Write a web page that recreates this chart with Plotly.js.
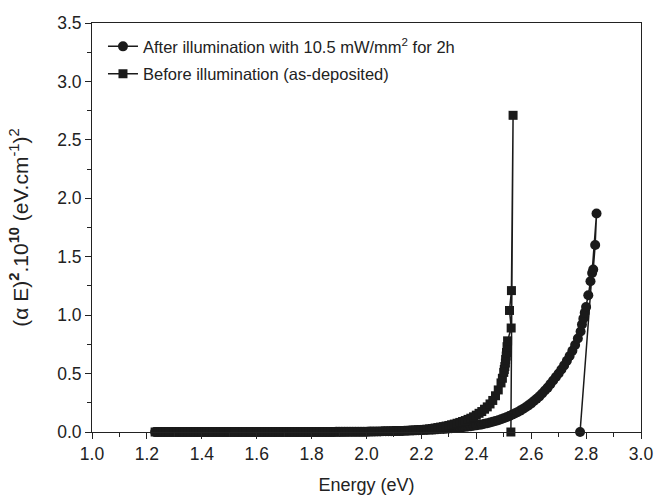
<!DOCTYPE html>
<html>
<head>
<meta charset="utf-8">
<script src="https://cdn.plot.ly/plotly-3.0.1.min.js"></script>
<style>html,body{margin:0;padding:0;background:#fff;}#chart{width:659px;height:501px;}</style>
</head>
<body>
<div id="chart"></div>
<script>
// After illumination with 10.5 mW/mm2 for 2h (circles)
const afterX = [
  1.23,1.24,1.25,1.26,1.27,1.28,1.29,1.30,1.31,1.32,
  1.33,1.34,1.35,1.36,1.37,1.38,1.39,1.40,1.41,1.42,
  1.43,1.44,1.45,1.46,1.47,1.48,1.49,1.50,1.51,1.52,
  1.53,1.54,1.55,1.56,1.57,1.58,1.59,1.60,1.61,1.62,
  1.63,1.64,1.65,1.66,1.67,1.68,1.69,1.70,1.71,1.72,
  1.73,1.74,1.75,1.76,1.77,1.78,1.79,1.80,1.81,1.82,
  1.83,1.84,1.85,1.86,1.87,1.88,1.89,1.90,1.91,1.92,
  1.93,1.94,1.95,1.96,1.97,1.98,1.99,2.00,2.01,2.02,
  2.03,2.04,2.05,2.06,2.07,2.08,2.09,2.10,2.11,2.12,
  2.13,2.14,2.15,2.16,2.17,2.18,2.19,2.20,2.21,2.22,
  2.23,2.24,2.25,2.26,2.27,2.28,2.29,2.30,2.31,2.32,
  2.33,2.34,2.35,2.36,2.37,2.38,2.39,2.40,2.41,2.42,
  2.43,2.44,2.45,2.46,2.47,2.48,2.49,2.50,2.51,2.52,
  2.53,2.54,2.55,2.56,2.57,2.58,2.59,2.60,
  2.61,2.62,2.63,2.64,2.65,2.66,2.67,2.68,2.69,2.70,
  2.71,2.72,2.73,2.74,2.75,2.76,2.77,2.78,
  2.785,2.79,2.795,2.80,2.808,2.816,2.822,2.826,2.833,2.838,2.778];
const afterY = [
  0,0,0,0,0,0,0,0,0,0,
  0,0,0,0,0,0,0,0,0,0,
  0,0,0,0,0,0,0,0,0,0,
  0,0,0,0,0,0,0,0,0,0,
  0,0,0,0,0,0,0,0,0,0,
  0,0,0,0,0,0,0,0,0.001,0.001,
  0.001,0.001,0.001,0.001,0.001,0.001,0.002,0.002,0.002,0.002,
  0.002,0.002,0.002,0.002,0.003,0.003,0.003,0.003,0.004,0.004,
  0.004,0.005,0.005,0.006,0.006,0.007,0.007,0.008,0.008,0.009,
  0.009,0.010,0.011,0.012,0.013,0.014,0.015,0.016,0.017,0.018,
  0.019,0.020,0.022,0.023,0.025,0.026,0.028,0.030,0.032,0.034,
  0.036,0.038,0.041,0.044,0.047,0.050,0.053,0.057,0.061,0.065,
  0.070,0.075,0.081,0.087,0.094,0.101,0.109,0.117,0.126,0.136,
  0.147,0.158,0.170,0.183,0.197,0.212,0.228,0.245,
  0.265,0.285,0.305,0.33,0.355,0.38,0.41,0.44,0.47,0.50,
  0.535,0.57,0.61,0.65,0.695,0.745,0.80,0.86,
  0.92,0.97,1.02,1.07,1.17,1.29,1.36,1.39,1.60,1.87,0.0];

// Before illumination (as-deposited) (squares)
const beforeX = [
  1.23,1.24,1.25,1.26,1.27,1.28,1.29,1.30,1.31,1.32,
  1.33,1.34,1.35,1.36,1.37,1.38,1.39,1.40,1.41,1.42,
  1.43,1.44,1.45,1.46,1.47,1.48,1.49,1.50,1.51,1.52,
  1.53,1.54,1.55,1.56,1.57,1.58,1.59,1.60,1.61,1.62,
  1.63,1.64,1.65,1.66,1.67,1.68,1.69,1.70,1.71,1.72,
  1.73,1.74,1.75,1.76,1.77,1.78,1.79,1.80,1.81,1.82,
  1.83,1.84,1.85,1.86,1.87,1.88,1.89,1.90,1.91,1.92,
  1.93,1.94,1.95,1.96,1.97,1.98,1.99,2.00,2.01,2.02,
  2.03,2.04,2.05,2.06,2.07,2.08,2.09,2.10,2.11,2.12,
  2.13,2.14,2.15,2.16,2.17,2.18,2.19,2.20,2.21,2.22,
  2.23,2.24,2.25,2.26,2.27,2.28,2.29,2.30,2.31,2.32,
  2.33,2.34,2.35,2.36,2.37,2.38,2.39,2.40,2.41,2.42,
  2.43,2.44,2.45,2.46,2.47,2.48,2.49,
  2.495,2.50,2.502,2.504,2.506,2.507,2.509,2.510,2.512,2.514,
  2.527,2.521,2.528,2.534,2.526];
const beforeY = [
  0,0,0,0,0,0,0,0,0,0,
  0,0,0,0,0,0,0,0,0,0,
  0,0,0,0,0,0,0,0,0,0,
  0,0,0,0,0,0,0,0,0,0,
  0,0,0,0,0,0,0,0,0,0,
  0,0,0,0,0,0,0,0,0,0,
  0.001,0.001,0.001,0.001,0.001,0.001,0.001,0.001,0.001,0.001,
  0.002,0.002,0.002,0.002,0.002,0.002,0.002,0.003,0.003,0.003,
  0.004,0.004,0.005,0.005,0.006,0.006,0.007,0.008,0.009,0.010,
  0.011,0.012,0.013,0.014,0.015,0.016,0.018,0.020,0.022,0.024,
  0.027,0.030,0.034,0.038,0.042,0.046,0.051,0.056,0.062,0.068,
  0.075,0.082,0.090,0.098,0.108,0.118,0.130,0.144,0.16,0.175,
  0.195,0.215,0.24,0.27,0.31,0.36,0.42,
  0.46,0.51,0.535,0.56,0.59,0.62,0.65,0.68,0.73,0.78,
  0.89,1.04,1.21,2.71,0.0];

const xTicks = [1.0,1.2,1.4,1.6,1.8,2.0,2.2,2.4,2.6,2.8,3.0];
const yTicks = [0.0,0.5,1.0,1.5,2.0,2.5,3.0,3.5];

const FONT = 'Liberation Sans, Arial, sans-serif';
const INK = '#1a1a1a';

const traces = [
  {x: afterX, y: afterY, mode: 'lines+markers', legendgroup: 'a',
   name: 'After illumination with 10.5 mW/mm<sup>2</sup> for 2h',
   line: {color: INK, width: 1.5}, marker: {symbol: 'circle', size: 10, color: INK}, cliponaxis: false},
  {x: beforeX, y: beforeY, mode: 'lines+markers', legendgroup: 'b',
   name: 'Before illumination (as-deposited)',
   line: {color: INK, width: 1.5}, marker: {symbol: 'square', size: 9, color: INK}, cliponaxis: false}
];

const layout = {
  width: 659, height: 501,
  margin: {l: 92, r: 18, t: 23, b: 69},
  paper_bgcolor: '#fff', plot_bgcolor: '#fff',
  font: {family: FONT, color: '#222', size: 17},
  showlegend: true,
  legend: {x: 0.02, y: 0.985, xanchor: 'left', yanchor: 'top', bgcolor: 'rgba(0,0,0,0)',
           font: {family: FONT, size: 16.5, color: '#222'}, tracegroupgap: 3, itemwidth: 30},
  xaxis: {range: [1.0, 3.0], tickvals: xTicks, ticktext: xTicks.map(v => v.toFixed(1)),
          ticks: 'outside', ticklen: 6, tickwidth: 1, tickcolor: '#222',
          minor: {dtick: 0.1, tick0: 1.0, ticks: 'outside', ticklen: 4, tickcolor: '#222', showgrid: false},
          showline: true, linecolor: '#222', linewidth: 1, mirror: true, showgrid: false, zeroline: false,
          tickfont: {size: 17.5}, title: {text: 'Energy (eV)', font: {size: 18}, standoff: 15}},
  yaxis: {range: [0, 3.5], tickvals: yTicks, ticktext: yTicks.map(v => v.toFixed(1)),
          ticks: 'outside', ticklen: 6, tickwidth: 1, tickcolor: '#222',
          minor: {dtick: 0.25, tick0: 0, ticks: 'outside', ticklen: 4, tickcolor: '#222', showgrid: false},
          showline: true, linecolor: '#222', linewidth: 1, mirror: true, showgrid: false, zeroline: false,
          tickfont: {size: 17.5},
          title: {text: '(α E)<b><sup>2</sup></b>.10<b><sup>10</sup></b> (eV.cm<sup>-1</sup>)<sup>2</sup>', font: {size: 21}, standoff: 22}}
};

Plotly.newPlot('chart', traces, layout, {displayModeBar: false, staticPlot: true});
</script>
</body>
</html>
